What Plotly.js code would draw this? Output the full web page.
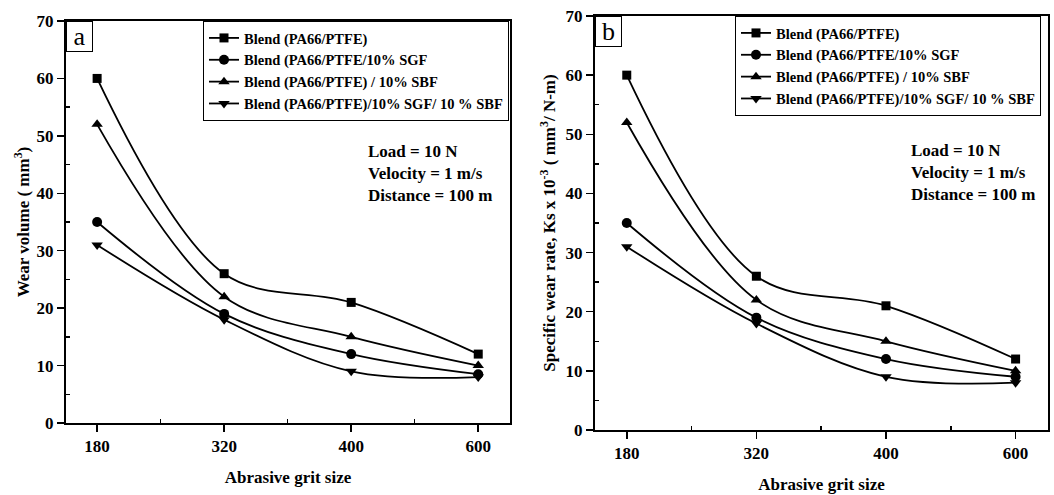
<!DOCTYPE html>
<html>
<head>
<meta charset="utf-8">
<script src="https://cdn.plot.ly/plotly-3.0.1.min.js"></script>
<style>html,body{margin:0;padding:0;background:#fff;}#chart{width:1054px;height:495px;}</style>
</head>
<body>
<div id="chart"></div>
<script>
// ---- Data ----
const gritSizes = ['180', '320', '400', '600'];
const seriesNames = [
  'Blend (PA66/PTFE)',
  'Blend (PA66/PTFE/10% SGF',
  'Blend (PA66/PTFE) / 10% SBF',
  'Blend (PA66/PTFE)/10% SGF/ 10 % SBF'
];
const markerSymbols = ['square', 'circle', 'triangle-up', 'triangle-down'];
// Panel a: wear volume (mm3)
const wearBlend      = [60, 26, 21, 12];
const wearSGF        = [35, 19, 12, 8.5];
const wearSBF        = [52, 22, 15, 10];
const wearSGFSBF     = [31, 18, 9, 8];
// Panel b: specific wear rate (Ks x 10^-3 mm3/N-m)
const rateBlend      = [60, 26, 21, 12];
const rateSGF        = [35, 19, 12, 9];
const rateSBF        = [52, 22, 15, 10];
const rateSGFSBF     = [31, 18, 9, 8];
const conditionText = ['Load = 10 N', 'Velocity = 1 m/s', 'Distance = 100 m'];

// ---- Build ----
const FONT = 'Liberation Serif, Times New Roman, serif';
const xIdx = gritSizes.map((_, i) => i);
const panelA = [wearBlend, wearSGF, wearSBF, wearSGFSBF];
const panelB = [rateBlend, rateSGF, rateSBF, rateSGFSBF];

const traces = [];
function addPanel(data, xa, ya, legendId) {
  data.forEach((vals, k) => {
    traces.push({
      x: xIdx, y: vals, xaxis: xa, yaxis: ya,
      type: 'scatter', mode: 'lines+markers',
      name: seriesNames[k], legend: legendId,
      line: {color: '#000', width: 1.8, shape: 'spline', smoothing: 1},
      marker: {symbol: markerSymbols[k], size: markerSymbols[k] === 'square' ? 9 : 10, color: '#000'}
    });
  });
}
addPanel(panelA, 'x', 'y', 'legend');
addPanel(panelB, 'x2', 'y2', 'legend2');

function xAxis(domain, anchor) {
  return {
    domain: domain, anchor: anchor, range: [-0.245, 3.25],
    tickmode: 'array', tickvals: xIdx, ticktext: gritSizes,
    ticks: 'outside', ticklen: 7, tickwidth: 1.5, tickcolor: '#000',
    showline: true, linecolor: '#000', linewidth: 2, mirror: true,
    showgrid: false, zeroline: false,
    minor: {tickmode: 'array', tickvals: [0.5, 1.5, 2.5], ticks: 'inside', ticklen: 4, tickcolor: '#000', showgrid: false},
    tickfont: {family: FONT, size: 17, color: '#000', weight: 'bold'},
    title: {text: 'Abrasive grit size', font: {family: FONT, size: 17, color: '#000', weight: 'bold'}, standoff: 16}
  };
}
function yAxis(domain, anchor, title, standoff) {
  return {
    domain: domain, anchor: anchor, range: [0, 70],
    tickmode: 'linear', tick0: 0, dtick: 10,
    ticks: 'outside', ticklen: 7, tickwidth: 1.5, tickcolor: '#000',
    showline: true, linecolor: '#000', linewidth: 2, mirror: true,
    showgrid: false, zeroline: false,
    minor: {tickmode: 'linear', tick0: 5, dtick: 10, ticks: 'inside', ticklen: 4, tickcolor: '#000', showgrid: false},
    tickfont: {family: FONT, size: 17, color: '#000', weight: 'bold'},
    title: {text: title, font: {family: FONT, size: 17, color: '#000', weight: 'bold'}, standoff: standoff}
  };
}

const dA = {x: [66/1054, 510/1054], y: [1 - 423/495, 1 - 21/495]};
const dB = {x: [595/1054, 1048/1054], y: [1 - 430/495, 1 - 16/495]};

function legendAt(x, y) {
  return {
    x: x, y: y, xanchor: 'left', yanchor: 'top', xref: 'paper', yref: 'paper',
    bgcolor: '#fff', bordercolor: '#000', borderwidth: 1,
    font: {family: FONT, size: 14.5, color: '#000', weight: 'bold'},
    tracegroupgap: 0, itemwidth: 30
  };
}

function labelBox(txt, x, y) {
  return {
    text: txt, xref: 'paper', yref: 'paper', x: x, y: y, xanchor: 'left', yanchor: 'top',
    showarrow: false, font: {family: FONT, size: 26, color: '#000'},
    bordercolor: '#000', borderwidth: 1, borderpad: 0, width: 25, height: 29, bgcolor: '#fff'
  };
}
function condAnn(x, y) {
  return {
    text: conditionText.join('<br>'), xref: 'paper', yref: 'paper', x: x, y: y,
    xanchor: 'left', yanchor: 'top', align: 'left', showarrow: false,
    font: {family: FONT, size: 17, color: '#000', weight: 'bold'}
  };
}

const layout = {
  width: 1054, height: 495,
  margin: {l: 0, r: 0, t: 0, b: 0},
  paper_bgcolor: '#fff', plot_bgcolor: '#fff',
  showlegend: true,
  xaxis: xAxis(dA.x, 'y'),
  yaxis: yAxis(dA.y, 'x', 'Wear volume ( mm<sup>3</sup>)', 3),
  xaxis2: xAxis(dB.x, 'y2'),
  yaxis2: yAxis(dB.y, 'x2', 'Specific wear rate, Ks x 10<sup>-3</sup> ( mm<sup>3</sup>/ N-m)', 6),
  legend: legendAt(203/1054, 1 - 21/495),
  legend2: legendAt(735/1054, 1 - 16/495),
  annotations: [
    labelBox('a', 66/1054, 1 - 21/495),
    labelBox('b', 595/1054, 1 - 16/495),
    condAnn(366/1054, 1 - 140/495),
    condAnn(909/1054, 1 - 139/495)
  ]
};

Plotly.newPlot('chart', traces, layout, {displayModeBar: false, staticPlot: true});
</script>
</body>
</html>
